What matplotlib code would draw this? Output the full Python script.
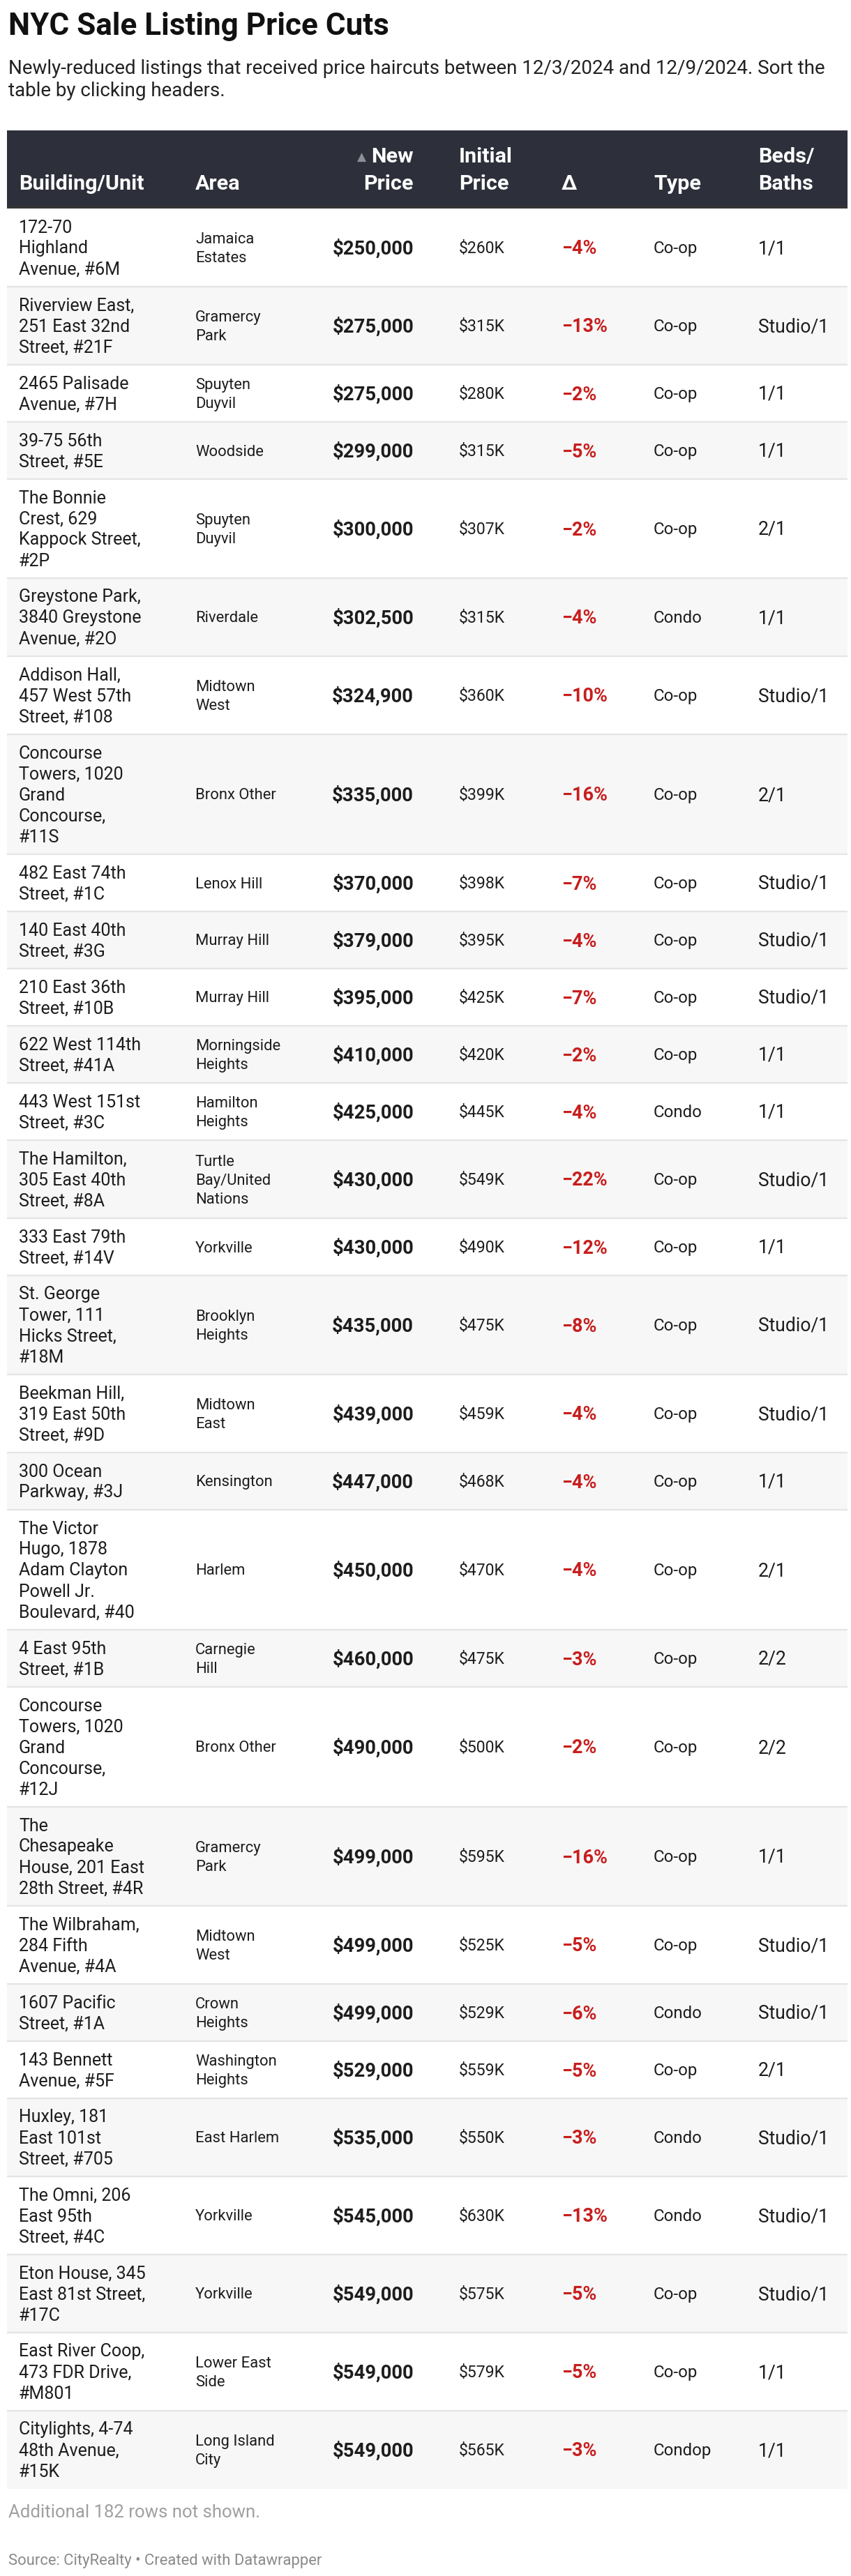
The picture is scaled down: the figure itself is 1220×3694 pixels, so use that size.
import matplotlib
matplotlib.use('Agg')
import matplotlib.pyplot as plt
from matplotlib.patches import Rectangle

plt.rcParams['font.family'] = ['Roboto', 'DejaVu Sans']

# ---------------- data ----------------
title = "NYC Sale Listing Price Cuts"
subtitle = ("Newly-reduced listings that received price haircuts between 12/3/2024 and 12/9/2024. Sort the\n"
            "table by clicking headers.")
note = "Additional 182 rows not shown."
source = "Source: CityRealty \u2022 Created with Datawrapper"

headers = ["Building/Unit", "Area", "New\nPrice", "Initial\nPrice", "\u0394", "Type", "Beds/\nBaths"]

buildings = [
    "172-70\nHighland\nAvenue, #6M",
    "Riverview East,\n251 East 32nd\nStreet, #21F",
    "2465 Palisade\nAvenue, #7H",
    "39-75 56th\nStreet, #5E",
    "The Bonnie\nCrest, 629\nKappock Street,\n#2P",
    "Greystone Park,\n3840 Greystone\nAvenue, #2O",
    "Addison Hall,\n457 West 57th\nStreet, #108",
    "Concourse\nTowers, 1020\nGrand\nConcourse,\n#11S",
    "482 East 74th\nStreet, #1C",
    "140 East 40th\nStreet, #3G",
    "210 East 36th\nStreet, #10B",
    "622 West 114th\nStreet, #41A",
    "443 West 151st\nStreet, #3C",
    "The Hamilton,\n305 East 40th\nStreet, #8A",
    "333 East 79th\nStreet, #14V",
    "St. George\nTower, 111\nHicks Street,\n#18M",
    "Beekman Hill,\n319 East 50th\nStreet, #9D",
    "300 Ocean\nParkway, #3J",
    "The Victor\nHugo, 1878\nAdam Clayton\nPowell Jr.\nBoulevard, #40",
    "4 East 95th\nStreet, #1B",
    "Concourse\nTowers, 1020\nGrand\nConcourse,\n#12J",
    "The\nChesapeake\nHouse, 201 East\n28th Street, #4R",
    "The Wilbraham,\n284 Fifth\nAvenue, #4A",
    "1607 Pacific\nStreet, #1A",
    "143 Bennett\nAvenue, #5F",
    "Huxley, 181\nEast 101st\nStreet, #705",
    "The Omni, 206\nEast 95th\nStreet, #4C",
    "Eton House, 345\nEast 81st Street,\n#17C",
    "East River Coop,\n473 FDR Drive,\n#M801",
    "Citylights, 4-74\n48th Avenue,\n#15K",
]

areas = [
    "Jamaica\nEstates", "Gramercy\nPark", "Spuyten\nDuyvil", "Woodside", "Spuyten\nDuyvil",
    "Riverdale", "Midtown\nWest", "Bronx Other", "Lenox Hill", "Murray Hill",
    "Murray Hill", "Morningside\nHeights", "Hamilton\nHeights", "Turtle\nBay/United\nNations", "Yorkville",
    "Brooklyn\nHeights", "Midtown\nEast", "Kensington", "Harlem", "Carnegie\nHill",
    "Bronx Other", "Gramercy\nPark", "Midtown\nWest", "Crown\nHeights", "Washington\nHeights",
    "East Harlem", "Yorkville", "Yorkville", "Lower East\nSide", "Long Island\nCity",
]

new_prices = [250000, 275000, 275000, 299000, 300000, 302500, 324900, 335000, 370000, 379000,
              395000, 410000, 425000, 430000, 430000, 435000, 439000, 447000, 450000, 460000,
              490000, 499000, 499000, 499000, 529000, 535000, 545000, 549000, 549000, 549000]

initial_prices_k = [260, 315, 280, 315, 307, 315, 360, 399, 398, 395,
                    425, 420, 445, 549, 490, 475, 459, 468, 470, 475,
                    500, 595, 525, 529, 559, 550, 630, 575, 579, 565]

pct_changes = [-4, -13, -2, -5, -2, -4, -10, -16, -7, -4,
               -7, -2, -4, -22, -12, -8, -4, -4, -4, -3,
               -2, -16, -5, -6, -5, -3, -13, -5, -5, -3]

types = ["Co-op", "Co-op", "Co-op", "Co-op", "Co-op", "Condo", "Co-op", "Co-op", "Co-op", "Co-op",
         "Co-op", "Co-op", "Condo", "Co-op", "Co-op", "Co-op", "Co-op", "Co-op", "Co-op", "Co-op",
         "Co-op", "Co-op", "Co-op", "Condo", "Co-op", "Condo", "Condo", "Co-op", "Co-op", "Condop"]

beds_baths = ["1/1", "Studio/1", "1/1", "1/1", "2/1", "1/1", "Studio/1", "2/1", "Studio/1", "Studio/1",
              "Studio/1", "1/1", "1/1", "Studio/1", "1/1", "Studio/1", "Studio/1", "1/1", "2/1", "2/2",
              "2/2", "1/1", "Studio/1", "Studio/1", "2/1", "Studio/1", "Studio/1", "Studio/1", "1/1", "1/1"]

# ---------------- layout ----------------
W, H = 1220, 3694
fig = plt.figure(figsize=(W / 100, H / 100), dpi=100)
ax = fig.add_axes([0, 0, 1, 1])
ax.set_xlim(0, W)
ax.set_ylim(H, 0)
ax.axis('off')

def pt(px):
    return px * 72 / 100

TXT = '#1d1d1d'
RED = '#c71e1d'
LEFT, RIGHT = 10, 1215
col_x = [27, 280, 593, 658, 805, 937, 1087]

# title + subtitle
ax.text(12, 50, title, fontsize=pt(44), fontweight='bold', color='#111111', va='baseline', ha='left')
for k, line in enumerate(subtitle.split('\n')):
    ax.text(12, 106 + 32 * k, line, fontsize=pt(27.8), color='#222222', va='baseline', ha='left')

# header
hdr_top, hdr_bot = 187, 299
ax.add_patch(Rectangle((LEFT, hdr_top), RIGHT - LEFT, hdr_bot - hdr_top, facecolor='#2d2f3a', edgecolor='none'))
ax.add_patch(Rectangle((LEFT, hdr_bot - 4), RIGHT - LEFT, 4, facecolor='#333333', edgecolor='none'))
hfs = pt(30.5)
fig.canvas.draw()
renderer = fig.canvas.get_renderer()
for j, h in enumerate(headers):
    lines = h.split('\n')
    ha = 'right' if j == 2 else 'left'
    for k, line in enumerate(reversed(lines)):
        yb = 272 - 39 * k
        t = ax.text(col_x[j], yb, line, fontsize=hfs, fontweight='bold', color='white',
                    va='baseline', ha=ha)
        if j == 2 and k == len(lines) - 1:
            bb = t.get_window_extent(renderer=renderer)
            ax.text(col_x[j] - bb.width - 7, yb - 2, '\u25b2', fontsize=pt(17), color='#8d8f96',
                    va='baseline', ha='right', family=['DejaVu Sans'])

# rows
y = hdr_bot
n_rows = len(buildings)
for i in range(n_rows):
    bl = buildings[i].split('\n')
    al = areas[i].split('\n')
    nl = max(len(bl), len(al))
    h = 30 * nl + 22
    bg = '#ffffff' if i % 2 == 0 else '#f7f7f7'
    ax.add_patch(Rectangle((LEFT, y), RIGHT - LEFT, h, facecolor=bg, edgecolor='none', zorder=0))
    if i < n_rows - 1:
        ax.plot([LEFT, RIGHT], [y + h, y + h], color='#e4e4e4', lw=1.6, zorder=1, solid_capstyle='butt')
    c = y + h / 2
    # building
    for k, line in enumerate(bl):
        yb = c + (k - (len(bl) - 1) / 2) * 30 + 8.5
        ax.text(col_x[0], yb, line, fontsize=pt(25), color=TXT, va='baseline', ha='left')
    # area
    for k, line in enumerate(al):
        yb = c + (k - (len(al) - 1) / 2) * 27 + 7.5
        ax.text(col_x[1], yb, line, fontsize=pt(22), color=TXT, va='baseline', ha='left')
    ax.text(col_x[2], c + 10, f"${new_prices[i]:,}", fontsize=pt(27.5), fontweight='bold', color=TXT,
            va='baseline', ha='right')
    ax.text(col_x[3], c + 8, f"${initial_prices_k[i]}K", fontsize=pt(23), color=TXT,
            va='baseline', ha='left')
    ax.text(col_x[4], c + 9.5, f"{pct_changes[i]}%".replace('-', '\u2212'), fontsize=pt(27),
            fontweight='bold', color=RED, va='baseline', ha='left')
    ax.text(col_x[5], c + 8, types[i], fontsize=pt(24), color=TXT, va='baseline', ha='left')
    ax.text(col_x[6], c + 9, beds_baths[i], fontsize=pt(26.5), color=TXT, va='baseline', ha='left')
    y += h

# footer
ax.text(12, 3610, note, fontsize=pt(25.8), color='#a0a0a0', va='baseline', ha='left')
ax.text(12, 3678, source, fontsize=pt(22), color='#8a8a8a', va='baseline', ha='left')

fig.savefig('out.png', dpi=100, facecolor='white')
